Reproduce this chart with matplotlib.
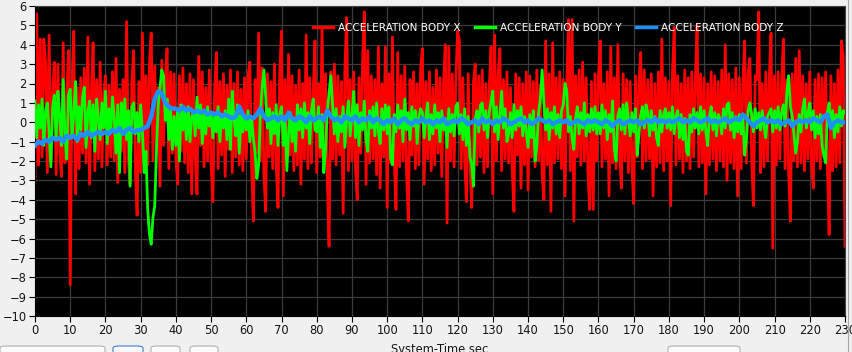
import numpy as np
import matplotlib
matplotlib.use("Agg")
import matplotlib.pyplot as plt
from matplotlib.patches import FancyBboxPatch
from matplotlib.lines import Line2D

# ---------------- data ----------------
series_names = ["ACCELERATION BODY X", "ACCELERATION BODY Y", "ACCELERATION BODY Z"]
t_start, t_end = 0, 230

accel_x = [
    -2.9, 5.6, -2.2, 4.3, -1.8, 4.3, 3.1, -2.6, 4.5, -2.0, 1.5, 3.1, -2.7, 3.0, -1.4, -2.8, 4.1, -2.1, 1.2, 3.7,
    -8.4, 2.0, 4.7, -3.7, 1.8, -2.4, 2.3, -1.6, 2.8, -2.1, 4.4, -3.2, 1.5, 4.1, -2.5, 2.2, -1.9, 3.1, -2.3, 1.4,
    2.4, -2.2, 1.9, -1.8, 2.6, -2.0, 3.3, -3.1, 1.7, -1.5, 2.2, -2.6, 5.2, -1.9, -3.2, 2.0, 3.7, -2.4, -4.8, 2.1,
    -2.6, 4.6, -1.8, 2.4, -2.2, 3.0, 4.6, -2.0, 2.9, -1.5, 1.8, -3.3, 3.2, -1.2, 2.2, 3.8, -2.4, 2.6, -1.6, 2.5,
    -1.8, -3.2, 2.4, -1.5, 2.8, -2.1, 2.0, -2.6, 2.5, -3.7, 2.2, -1.9, -3.7, 3.4, -1.2, 2.6, -2.3, 1.8, -2.0, 2.7,
    -2.1, -4.1, 1.6, 3.6, -2.4, 2.1, -1.7, 2.5, -2.8, 1.9, -1.4, 2.7, -2.6, 2.0, -1.8, 2.6, -2.2, 1.7, -2.5, 2.3,
    -1.9, 2.4, 3.1, -2.3, -5.1, 2.2, -1.6, 4.6, -2.0, 2.8, -2.7, -4.6, 2.5, -1.8, 2.1, -2.4, 3.0, -2.2, -4.4, 2.6,
    4.7, -3.8, 2.2, -2.0, 3.5, -1.7, 2.4, -2.5, 1.9, -2.2, 2.7, -3.2, 2.0, -1.9, 4.5, -2.4, 2.3, -2.1, 1.6, 4.2,
    -2.6, 2.0, -1.8, 4.9, -2.3, 2.5, -3.0, -6.4, 2.6, -1.9, 3.0, -2.2, 2.4, -1.7, 2.1, -4.7, 2.8, 5.4, -2.5, 2.2,
    -2.0, 2.6, -2.4, -4.0, 2.3, -1.6, 3.0, 5.7, -3.2, 3.7, -2.1, 2.4, -1.9, 2.2, -2.7, 3.9, -3.4, 2.0, -1.8, 3.9,
    -4.4, 2.5, -2.1, 4.4, -1.8, -4.5, 3.6, -2.3, 2.4, -2.0, 2.9, -2.6, -5.1, 2.2, -1.7, 2.6, -2.4, 2.0, -2.2, 2.8,
    3.8, -3.2, 2.1, -1.9, 2.6, -2.5, 1.8, -2.2, 2.7, -1.6, 2.3, -2.8, 2.0, 4.0, -5.2, 3.9, -2.0, 2.5, -2.3, 2.2,
    4.7, 4.2, -2.4, 2.3, -1.9, -4.1, 2.5, -2.0, -4.4, 2.1, 3.0, -2.2, 2.4, -1.8, 2.7, -2.6, 2.0, -2.3, 1.9, 3.9,
    -3.7, 4.5, -2.0, 2.4, 3.8, -2.5, 2.2, -1.9, 2.6, -2.1, 1.8, -2.4, -4.6, 2.5, -1.7, 2.3, -3.4, 2.0, -2.2, 2.6,
    -3.5, 2.4, -1.8, 2.1, -2.3, 2.7, -2.0, 1.9, -2.6, -4.0, 4.2, -2.2, 2.5, -4.6, 4.1, -2.1, 2.3, -1.9, 2.6, -2.4,
    2.2, -3.8, 2.0, 5.3, -2.5, 5.3, -5.1, 2.4, -1.8, 2.7, -2.2, 3.1, -2.0, 2.3, -2.6, -4.5, 2.1, -4.5, 2.5, -2.0,
    2.4, 4.2, -2.3, 2.0, -1.9, 2.6, -3.8, 3.9, -2.1, 2.3, -2.4, 4.0, -1.7, -3.4, 2.5, -2.0, 2.2, -2.6, 2.1, -2.3,
    -4.2, 2.4, -1.8, 2.1, 3.6, -2.4, 2.7, -2.0, 2.2, -1.9, 2.5, -3.8, 2.0, -2.3, 2.6, -2.1, 4.3, -2.5, 2.3, -2.0,
    2.1, -4.3, 2.5, 4.9, -2.2, 2.4, -1.9, 2.0, -2.6, 2.7, -2.0, 2.3, -2.4, 2.6, -1.8, 2.2, 5.0, -2.3, 2.5, -2.1,
    2.3, -3.7, 2.0, -2.2, 2.6, -1.9, 2.4, -2.5, 2.1, -2.0, 2.7, -2.3, 4.0, -3.0, 2.5, -2.1, 2.2, -2.4, 2.8, -3.8,
    2.3, -2.4, 2.0, 4.2, -2.1, 2.5, 3.3, -1.9, -4.3, 2.4, 2.2, 5.7, -2.6, 2.0, -2.3, 2.6, -2.0, 2.3, 4.6, -6.5,
    2.4, -2.2, 2.6, -1.9, 2.1, 4.3, -2.4, 2.2, -2.6, -5.1, 2.5, -2.0, 3.3, -2.3, 3.7, -2.1, 2.4, -2.5, 2.0, -1.9,
    2.6, -2.3, -3.4, 2.2, -2.0, 2.5, -2.4, 2.3, -1.8, 2.6, -2.2, -5.8, 2.4, -2.5, 2.0, -2.3, 2.7, -2.1, 4.2, 3.4,
    -6.4,
]

accel_y = [
    1.1, -0.8, 0.9, -0.3, 1.2, -1.2, 0.6, 1.0, -0.5, -2.3, 0.8, 1.4, -0.9, 1.6, 0.3, -1.2, 2.2, -0.6, -1.9, 1.4,
    1.7, -0.7, 0.4, 2.1, -1.0, 0.8, -0.4, 1.3, 1.8, -1.3, 0.5, 1.1, -0.8, 0.9, -1.5, 1.2, 0.2, -0.9, 1.0, -0.3,
    1.6, -1.1, 0.7, -0.5, 1.3, 0.2, -1.6, 0.9, -2.6, 1.0, -0.4, 1.2, -0.9, 0.6, -3.3, 0.8, 1.0, -0.6, 0.5, -1.0,
    0.9, -0.5, -2.6, -1.5, -4.5, -5.8, -6.3, -4.9, -4.3, -1.4, 0.9, 1.8, 2.7, 2.4, 0.1, 1.2, -0.9, 0.6, -1.4, 0.3,
    -1.2, 0.7, -2.0, 0.9, -0.4, 0.6, -0.9, 0.8, -1.0, 0.3, 0.5, -0.7, 1.3, -0.3, 0.9, -1.1, 0.4, -0.6, 0.8, -0.2,
    0.5, -0.8, 0.3, -0.5, 0.8, -1.0, 0.4, -0.3, 0.6, -0.9, 1.2, -1.4, 1.6, 0.2, -0.7, 0.9, -1.6, 0.4, -0.5, 0.3,
    -0.4, 0.6, -1.0, 0.3, -0.8, -1.6, -2.9, -2.2, 0.4, 1.8, 2.7, 1.3, -0.3, 0.7, -1.1, 0.5, -0.6, 0.9, -1.2, 0.4,
    0.8, -1.2, 0.3, -2.5, -0.6, 0.5, -1.0, 0.2, -1.5, 0.9, -0.4, 0.7, -0.8, 1.0, -0.3, 0.5, -1.1, 0.6, 1.2, -0.4,
    -0.5, 0.8, -1.3, 0.4, -2.6, -1.4, 0.6, 1.5, 2.4, 0.9, -0.6, 0.7, -1.0, 0.3, -0.5, 0.8, -1.3, 0.2, 1.1, -0.7,
    0.4, 1.6, -0.8, 0.9, -1.2, 0.5, -0.4, 1.1, -0.9, -1.5, 0.6, -0.3, 0.8, -0.7, 1.0, -0.5, -1.1, 0.7, -0.4, 0.9,
    -0.6, 0.8, -1.9, -2.2, 0.4, -0.5, 0.9, -0.3, 0.6, -1.0, 1.2, -0.4, 0.5, -0.9, 0.8, -0.2, 0.6, -1.1, 0.3, 0.7,
    0.5, -0.8, 0.3, 1.0, -0.9, 0.4, -0.6, 0.9, -0.3, 0.5, -1.0, 0.6, -0.4, 0.2, -1.3, 0.7, -0.5, 0.4, -0.7, 0.8,
    1.0, -0.6, 0.4, -0.9, 0.7, -1.2, 0.3, -1.8, -2.2, -3.3, 0.2, 0.6, -0.5, 0.9, 1.0, -0.4, 0.6, -0.8, 0.5, 1.1,
    1.6, -0.5, 0.8, -0.9, 0.4, 1.6, -0.3, 0.7, -1.0, -0.6, 0.5, -0.8, 0.9, -0.4, 0.6, -0.2, 0.8, -0.7, 0.3, -0.5,
    -1.3, 0.4, -0.8, 0.6, -2.0, -1.2, 0.5, 1.2, 2.7, 1.0, -0.4, 0.7, -0.9, 0.5, -0.3, 0.8, -0.6, 0.4, -0.8, 0.6,
    0.9, 2.0, 1.6, -0.5, 0.3, -0.8, -1.4, 0.2, 0.8, -0.6, 0.5, -0.3, 1.0, -0.7, 0.4, -0.5, 0.7, -0.4, 0.8, -0.6,
    0.5, -0.6, 0.9, -0.3, 0.6, -0.9, 0.4, -0.5, 1.1, -1.4, -2.0, 0.3, 0.7, -0.4, 0.9, -0.6, 1.0, 0.2, -0.7, 0.5,
    -0.5, 0.7, -1.7, -0.6, 0.4, 0.8, -0.3, 0.9, 0.5, -0.7, 0.6, -0.4, 0.3, -0.8, -1.2, 0.6, -0.5, 0.4, 0.7, -0.3,
    0.5, -0.4, 0.8, -0.6, 0.3, 0.6, -0.8, 0.4, -0.9, 0.2, -1.5, -1.7, 0.4, -0.5, 0.7, -0.3, 0.5, -0.6, 0.8, -0.4,
    0.6, -0.5, -1.2, 0.3, 0.8, -0.4, 0.5, -0.7, 0.4, 0.2, -0.6, 0.7, -0.3, 0.9, 1.0, -0.4, 0.5, -0.8, 0.3, -0.5,
    0.4, -0.6, 0.3, -1.7, -0.9, 0.6, 1.0, 0.4, -0.5, 0.7, -0.3, 0.5, -0.4, 0.6, -0.2, -0.8, 0.3, 0.5, 0.7, -0.5,
    0.6, -0.3, 0.8, -0.4, 0.5, 0.9, -0.2, 1.6, 2.4, 0.8, 0.3, -0.6, -1.6, -1.0, 0.4, -0.5, 0.7, 1.2, -0.3, 0.5,
    1.0, -0.4, 0.6, -0.8, 0.3, -0.6, 0.4, -1.2, -1.7, -2.1, 0.5, 1.0, -0.3, 0.6, -0.8, 0.4, -0.5, 0.8, -0.2, 0.6,
    0.5,
]

accel_z = [
    -1.2, -1.0, -1.1, -0.9, -1.0, -0.8, -0.9, -0.8, -1.0, -0.7,
    -0.8, -0.7, -0.9, -0.6, -0.7, -0.5, -0.7, -0.6, -0.5, -0.6,
    -0.5, -0.6, -0.4, -0.5, -0.3, -0.6, -0.4, -0.3, -0.5, -0.4,
    -0.4, -0.3, -0.2, 0.3, 1.2, 1.6, 1.5, 1.0, 0.8, 0.7,
    0.7, 0.6, 0.8, 0.6, 0.7, 0.5, 0.6, 0.5, 0.6, 0.4,
    0.5, 0.4, 0.5, 0.3, 0.4, 0.3, 0.2, 0.3, 0.8, 0.4,
    0.2, 0.3, 0.2, 0.4, 0.7, 0.3, 0.1, 0.2, 0.3, 0.1,
    0.3, 0.1, 0.5, 0.2, 0.1, 0.3, 0.2, 0.0, 0.3, 0.1,
    0.2, 0.3, 0.1, 0.6, 0.3, 0.1, 0.2, 0.0, 0.3, 0.2,
    0.1, 0.3, 0.0, 0.2, 0.1, 0.3, 0.0, 0.2, 0.1, -0.1,
    0.1, 0.0, 0.2, -0.1, 0.1, 0.2, 0.0, -0.1, 0.1, 0.0,
    0.2, 0.0, 0.1, -0.1, 0.1, 0.0, 0.2, -0.1, 0.0, 0.1,
    0.0, 0.2, 0.1, -0.1, 0.0, 0.1, -0.1, 0.2, 0.0, 0.1,
    -0.1, 0.1, 0.0, 0.2, 0.1, -0.1, 0.0, 0.1, 0.2, 0.0,
    0.1, -0.1, 0.0, 0.2, 0.1, 0.0, 0.1, -0.1, 0.0, 0.1,
    0.0, 0.1, -0.1, 0.0, 0.1, 0.0, -0.1, 0.1, 0.0, 0.1,
    0.0, -0.1, 0.1, 0.0, -0.2, 0.0, 0.1, -0.1, 0.0, 0.1,
    0.0, 0.1, -0.1, 0.0, 0.1, 0.0, 0.2, 0.0, 0.1, 0.0,
    0.1, 0.0, 0.1, 0.2, 0.0, 0.1, 0.0, 0.2, 0.1, 0.0,
    0.1, 0.2, 0.0, 0.1, 0.0, 0.1, 0.2, 0.0, 0.1, 0.2,
    0.1, 0.4, 0.2, 0.0, -0.2, 0.0, 0.1, 0.2, 0.0, 0.1,
    0.0, 0.1, -0.1, 0.0, 0.1, -0.2, 0.0, 0.1, 0.0, 0.1,
    0.0, 0.2, 0.1, 0.0, 0.3, 0.4, -0.3, 0.0, 0.1, 0.0,
    0.0,
]

x_ticks = list(range(0, 231, 10))
y_ticks = list(range(-10, 7, 1))

# ---------------- figure ----------------
W, H = 853, 352
fig = plt.figure(figsize=(W / 100, H / 100), dpi=100, facecolor="#f0f0f0")
ax = fig.add_axes([35 / W, 1 - 316 / H, (845 - 35) / W, (316 - 6) / H])
ax.set_facecolor("black")

tx = np.linspace(t_start, t_end, len(accel_x))
ty = np.linspace(t_start, t_end, len(accel_y))
tz = np.linspace(t_start, t_end, len(accel_z))

ax.plot(tx, accel_x, color="#ff0000", lw=2.0, label=series_names[0], zorder=2)
ax.plot(ty, accel_y, color="#00ff00", lw=2.0, label=series_names[1], zorder=3)
ax.plot(tz, accel_z, color="#1e90ff", lw=3.2, label=series_names[2], zorder=4)

ax.set_xlim(t_start, t_end)
ax.set_ylim(-10, 6)
ax.set_xticks(x_ticks)
ax.set_yticks(y_ticks)
ax.grid(True, color="#3c3c3c", lw=0.9, zorder=0)
ax.set_axisbelow(True)
ax.tick_params(axis="both", direction="out", length=4, width=0.8, color="black",
               labelsize=8.3, labelcolor="#141414", pad=2)
for s in ["top", "right"]:
    ax.spines[s].set_color("#404040")
for s in ["left", "bottom"]:
    ax.spines[s].set_color("black")

leg = ax.legend(loc="upper right", bbox_to_anchor=(0.936, 0.977), ncol=3, frameon=False,
                fontsize=7.6, handlelength=1.9, handletextpad=0.45, columnspacing=1.4,
                labelcolor="white")
for h in leg.get_lines():
    h.set_linewidth(2.5)

fig.text(440 / W, 1 - 343 / H, "System-Time sec", ha="center", va="top",
         fontsize=8.3, color="#141414")

# bottom UI boxes (partially visible)
for x0, x1, ec in [(0, 105, "#b0b0b0"), (113, 143, "#3c7fd6"), (151, 180, "#b0b0b0"),
                   (190, 218, "#b0b0b0"), (668, 740, "#b0b0b0")]:
    p = FancyBboxPatch((x0 / W, -20 / H), (x1 - x0) / W, 26 / H,
                       boxstyle="round,pad=0,rounding_size=0.006",
                       transform=fig.transFigure, facecolor="#fafafa",
                       edgecolor=ec, lw=0.8, clip_on=False)
    fig.add_artist(p)

fig.add_artist(Line2D([848 / W, 848 / W], [0, 1], transform=fig.transFigure,
                      color="#a8a8a8", lw=0.8))

fig.savefig("out.png", dpi=100, facecolor=fig.get_facecolor())
